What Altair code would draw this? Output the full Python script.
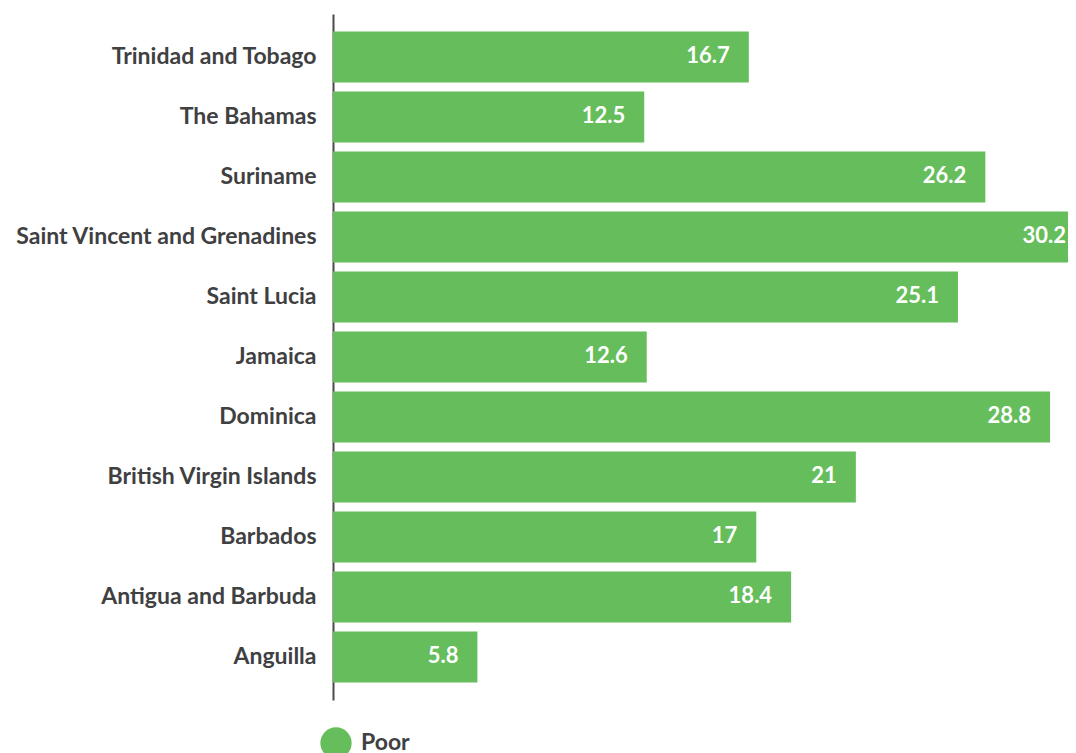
import altair as alt
import pandas as pd

countries = [
    "Trinidad and Tobago",
    "The Bahamas",
    "Suriname",
    "Saint Vincent and Grenadines",
    "Saint Lucia",
    "Jamaica",
    "Dominica",
    "British Virgin Islands",
    "Barbados",
    "Antigua and Barbuda",
    "Anguilla",
]
values = [16.7, 12.5, 26.2, 30.2, 25.1, 12.6, 28.8, 21, 17, 18.4, 5.8]
labels = ["16.7", "12.5", "26.2", "30.2", "25.1", "12.6", "28.8", "21", "17", "18.4", "5.8"]
series = ["Poor"] * len(countries)

df = pd.DataFrame({"country": countries, "value": values, "label": labels, "series": series})

FONT = "Lato"
GREEN = "#66bd5b"
DARK = "#3f4041"

y_enc = alt.Y(
    "country:N",
    sort=countries,
    title=None,
    scale=alt.Scale(paddingInner=0.15, paddingOuter=0.29),
    axis=alt.Axis(
        ticks=False,
        labelFont=FONT,
        labelFontSize=23,
        labelFontWeight="bold",
        labelColor=DARK,
        labelPadding=17,
        labelLimit=1000,
        domainColor="#4a4a4a",
        domainWidth=2,
        grid=False,
    ),
)
x_enc = alt.X(
    "value:Q",
    scale=alt.Scale(domain=[0, 29.52], nice=False),
    axis=None,
)

bars = alt.Chart(df).mark_bar(cornerRadius=0, clip=True).encode(
    y=y_enc,
    x=x_enc,
    color=alt.Color(
        "series:N",
        scale=alt.Scale(domain=["Poor"], range=[GREEN]),
        legend=alt.Legend(
            title=None,
            orient="none",
            legendX=-13,
            legendY=713,
            symbolType="circle",
            symbolSize=980,
            symbolStrokeWidth=0,
            labelFont=FONT,
            labelFontSize=23,
            labelFontWeight="bold",
            labelColor=DARK,
            labelOffset=9,
        ),
    ),
)

text = alt.Chart(df).mark_text(
    align="right",
    baseline="middle",
    dx=-19,
    dy=-1,
    font=FONT,
    fontSize=22,
    fontWeight="bold",
    color="white",
).encode(
    y=alt.Y("country:N", sort=countries),
    x=alt.X("value:Q"),
    text="label:N",
)

chart = (
    alt.layer(bars, text)
    .properties(width=735, height=686, padding={"left": 6, "top": 6, "right": 0, "bottom": 0})
    .configure(background="white")
    .configure_view(stroke="transparent", strokeWidth=0)
)

chart.save("out.html", embed_options={"renderer": "svg", "actions": False})
